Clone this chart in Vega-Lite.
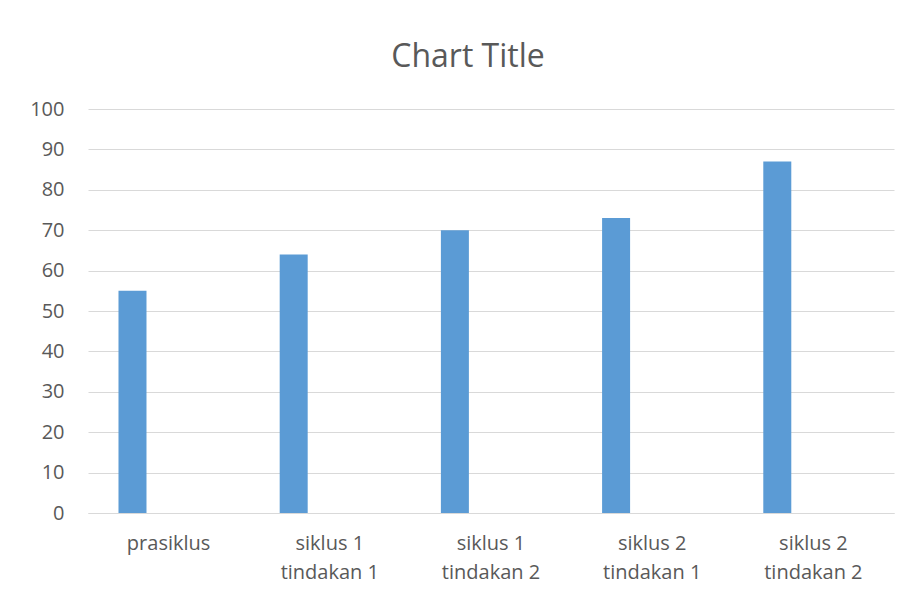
{
  "$schema": "https://vega.github.io/schema/vega-lite/v6.json",
  "width": 806,
  "height": 404,
  "autosize": {"type": "none"},
  "padding": {"left": 88, "top": 109, "right": 25, "bottom": 85},
  "background": "white",
  "title": {
    "text": "Chart Title",
    "font": "Open Sans",
    "fontSize": 32,
    "fontWeight": "normal",
    "color": "#595959",
    "anchor": "middle",
    "frame": "group",
    "baseline": "alphabetic",
    "offset": 0,
    "dx": -23
  },
  "data": {
    "values": [
      {"category": "prasiklus", "series": "Series 1", "value": 55},
      {"category": "siklus 1 tindakan 1", "series": "Series 1", "value": 64},
      {"category": "siklus 1 tindakan 2", "series": "Series 1", "value": 70},
      {"category": "siklus 2 tindakan 1", "series": "Series 1", "value": 73},
      {"category": "siklus 2 tindakan 2", "series": "Series 1", "value": 87}
    ]
  },
  "mark": {"type": "bar", "color": "#5B9BD5", "width": 28},
  "encoding": {
    "x": {
      "field": "category",
      "type": "nominal",
      "sort": null,
      "scale": {"paddingInner": 0, "paddingOuter": 0},
      "axis": {
        "title": null,
        "labelAngle": 0,
        "labelFont": "Open Sans",
        "labelFontSize": 20,
        "labelColor": "#595959",
        "labelLineHeight": 29,
        "labelPadding": 20,
        "ticks": false,
        "tickSize": 0,
        "domainColor": "#D9D9D9",
        "domainWidth": 1,
        "grid": false,
        "labelExpr": "datum.value == 'prasiklus' ? datum.value : [slice(datum.value, 0, 8), slice(datum.value, 9)]"
      }
    },
    "xOffset": {
      "field": "series",
      "type": "nominal",
      "scale": {"domain": ["Series 1", "Series 2", "Series 3"], "paddingInner": 0, "paddingOuter": 1.38, "align": 0.44}
    },
    "y": {
      "field": "value",
      "type": "quantitative",
      "scale": {"domain": [0, 100]},
      "axis": {
        "title": null,
        "values": [0, 10, 20, 30, 40, 50, 60, 70, 80, 90, 100],
        "domain": false,
        "ticks": false,
        "tickSize": 0,
        "labelPadding": 24,
        "labelFont": "Open Sans",
        "labelFontSize": 20,
        "labelColor": "#595959",
        "gridColor": "#D9D9D9",
        "gridWidth": 1
      }
    }
  },
  "config": {"view": {"stroke": null}}
}
